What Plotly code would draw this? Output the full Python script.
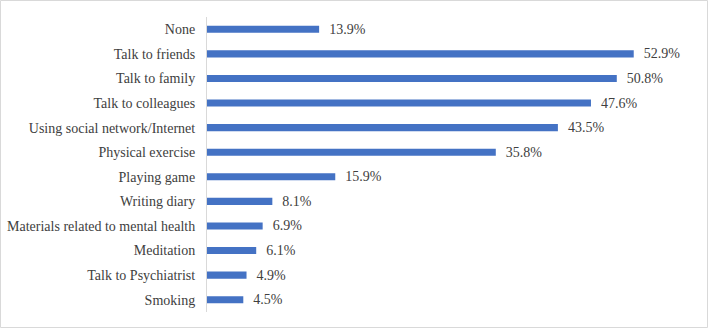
import plotly.graph_objects as go

categories = ["None", "Talk to friends", "Talk to family", "Talk to colleagues",
              "Using social network/Internet", "Physical exercise", "Playing game",
              "Writing diary", "Materials related to mental health", "Meditation",
              "Talk to Psychiatrist", "Smoking"]
values = [13.9, 52.9, 50.8, 47.6, 43.5, 35.8, 15.9, 8.1, 6.9, 6.1, 4.9, 4.5]
labels = [f"{v:.1f}%" for v in values]

W, H = 709, 329
L, R, T, B = 207, 18, 17, 17
FONT = "Liberation Serif"
FS = 14

fig = go.Figure(go.Bar(
    y=categories, x=values, orientation="h",
    marker=dict(color="#4472C4", line=dict(width=0)),
    width=0.29,
    text=["  " + s for s in labels], textposition="outside",
    constraintext="none",
    textfont=dict(family=FONT, size=FS, color="#404040"),
    cliponaxis=False,
))

pw = W - L - R
ph = H - T - B
fig.add_shape(type="rect", xref="paper", yref="paper",
              x0=(-L + 0.5) / pw, x1=(pw + R - 1.5) / pw,
              y0=(-B + 1.5) / ph, y1=(ph + T - 0.5) / ph,
              line=dict(color="#D9D9D9", width=1), layer="below")

fig.update_layout(
    width=W, height=H, margin=dict(l=L, r=R, t=T, b=B, autoexpand=False),
    paper_bgcolor="white", plot_bgcolor="white",
    showlegend=False,
    uniformtext=dict(minsize=FS, mode="show"),
    font=dict(family=FONT, size=FS, color="#404040"),
    xaxis=dict(range=[0, 60], visible=False, fixedrange=True, automargin=False),
    yaxis=dict(autorange="reversed", showline=True, linecolor="#D9D9D9", linewidth=1,
               ticks="", ticklabelstandoff=8, showgrid=False, fixedrange=True,
               automargin=False,
               tickfont=dict(family=FONT, size=FS, color="#404040")),
)

fig.write_html("out.html")
